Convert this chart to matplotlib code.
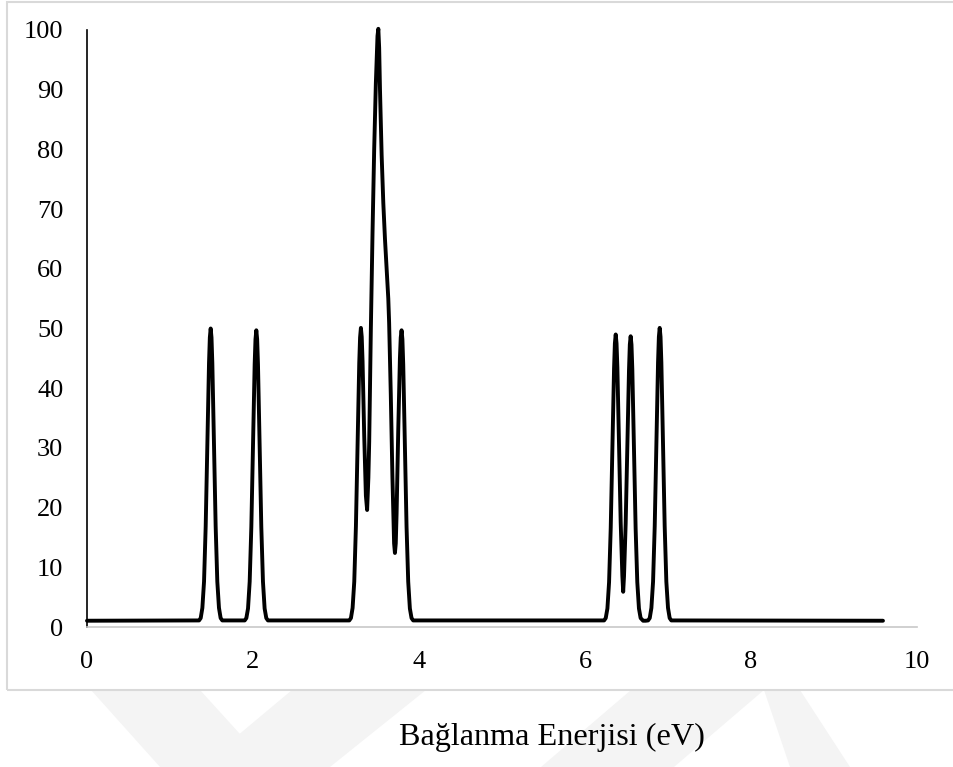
import numpy as np
import matplotlib.pyplot as plt
from matplotlib.patches import Rectangle, Polygon

plt.rcParams['font.family'] = ['Liberation Serif', 'DejaVu Serif']

# values (energy in eV, intensity in %)
baseline = 1.05
x_start, x_end = 0.0, 9.59

peak1_x = [1.35, 1.37, 1.39, 1.41, 1.43, 1.45, 1.47, 1.48, 1.49, 1.50, 1.51, 1.53, 1.55, 1.57, 1.59, 1.61, 1.63]
peak1_y = [1.1, 1.5, 3.2, 7.6, 16.9, 30.7, 44.2, 48.5, 50.0, 48.5, 44.2, 30.7, 16.9, 7.6, 3.2, 1.5, 1.1]

peak2_x = [1.90, 1.92, 1.94, 1.96, 1.98, 2.00, 2.02, 2.03, 2.04, 2.05, 2.06, 2.08, 2.10, 2.12, 2.14, 2.16, 2.18]
peak2_y = [1.1, 1.5, 3.1, 7.6, 16.8, 30.6, 44.0, 48.2, 49.7, 48.2, 44.0, 30.6, 16.8, 7.6, 3.1, 1.5, 1.1]

center_x = [3.16, 3.18, 3.20, 3.22, 3.24, 3.26, 3.28, 3.29, 3.30, 3.31, 3.32, 3.34, 3.36, 3.375,
            3.39, 3.40, 3.42, 3.44, 3.46, 3.48, 3.50, 3.51, 3.52, 3.53, 3.55, 3.57, 3.59, 3.61,
            3.63, 3.64, 3.66, 3.68, 3.70, 3.71, 3.72, 3.73, 3.75, 3.77, 3.78, 3.79, 3.80, 3.81,
            3.83, 3.85, 3.87, 3.89, 3.91, 3.93]
center_y = [1.1, 1.5, 3.2, 7.6, 16.9, 30.7, 44.2, 48.5, 50.1, 48.6, 44.5, 32.0, 22.0, 19.6,
            25.0, 31.0, 50.0, 66.0, 80.0, 91.0, 99.0, 100.2, 97.0, 90.0, 79.0, 71.0, 65.0, 60.0,
            55.0, 51.0, 39.0, 25.0, 14.0, 12.4, 14.0, 19.0, 33.0, 45.0, 48.5, 49.7, 48.2, 44.0,
            30.6, 16.8, 7.6, 3.1, 1.5, 1.1]

right_x = [6.23, 6.25, 6.27, 6.29, 6.31, 6.33, 6.35, 6.36, 6.37, 6.38, 6.39, 6.41, 6.43, 6.45,
           6.46, 6.47, 6.49, 6.51, 6.53, 6.54, 6.55, 6.56, 6.57, 6.59, 6.61, 6.63, 6.65, 6.67,
           6.70, 6.73, 6.76, 6.78, 6.80, 6.82, 6.84, 6.86, 6.88, 6.89, 6.90, 6.91, 6.92, 6.94,
           6.96, 6.98, 7.00, 7.02, 7.04]
right_y = [1.1, 1.5, 3.1, 7.5, 16.6, 30.1, 43.3, 47.5, 49.0, 47.5, 43.5, 30.8, 17.5, 8.6,
           5.9, 8.5, 17.3, 30.5, 43.0, 47.3, 48.7, 47.3, 43.2, 30.0, 16.5, 7.5, 3.1, 1.5,
           1.05, 1.05, 1.1, 1.5, 3.2, 7.6, 16.9, 30.8, 44.3, 48.6, 50.1, 48.6, 44.3, 30.8,
           16.9, 7.6, 3.2, 1.5, 1.1]

energy = np.concatenate([[x_start], peak1_x, peak2_x, center_x, right_x, [x_end]])
intensity = np.concatenate([[baseline], peak1_y, peak2_y, center_y, right_y, [baseline]])

x_ticks = [0, 2, 4, 6, 8, 10]
y_ticks = [0, 10, 20, 30, 40, 50, 60, 70, 80, 90, 100]
x_label = 'Bağlanma Enerjisi (eV)'

W, H = 954, 767


def fig_xy(px, py):
    return px / W, 1 - py / H


fig = plt.figure(figsize=(W / 100, H / 100), dpi=100)

# faint watermark below the chart frame
wm_shapes = [
    [(91, 690), (200, 690), (270, 767), (160, 767)],
    [(292, 690), (426, 690), (330, 767), (200, 767)],
    [(631, 690), (764, 690), (674, 767), (541, 767)],
    [(764, 690), (800, 690), (850, 767), (790, 767)],
]
for shape in wm_shapes:
    fig.add_artist(Polygon([fig_xy(*p) for p in shape], closed=True, transform=fig.transFigure,
                           fc='#f4f4f4', ec='none', zorder=0))

# chart area border
x0, y0 = fig_xy(7.5, 690)
x1, y1 = fig_xy(965, 1.5)
fig.add_artist(Rectangle((x0, y0), x1 - x0, y1 - y0, transform=fig.transFigure,
                         fill=False, ec='#d9d9d9', lw=1.5, zorder=1))

ax = fig.add_axes([87 / W, 1 - 627 / H, (917 - 87) / W, (627 - 30) / H])
ax.set_facecolor('none')
ax.plot(energy, intensity, color='black', lw=2.8, solid_capstyle='round',
        solid_joinstyle='round', clip_on=False, zorder=3)

ax.set_xlim(0, 10)
ax.set_ylim(0, 100)
ax.set_xticks(x_ticks)
ax.set_yticks(y_ticks)
ax.tick_params(axis='both', length=0, labelsize=19, colors='black')
ax.tick_params(axis='x', pad=17)
ax.tick_params(axis='y', pad=17)

for side in ['top', 'right']:
    ax.spines[side].set_visible(False)
ax.spines['left'].set_color('black')
ax.spines['left'].set_linewidth(1.2)
ax.spines['bottom'].set_color('#c8c8c8')
ax.spines['bottom'].set_linewidth(1.2)

fx, fy = fig_xy(552, 745)
fig.text(fx, fy, x_label, ha='center', va='baseline', fontsize=23.2)

fig.savefig('out.png', dpi=100)
